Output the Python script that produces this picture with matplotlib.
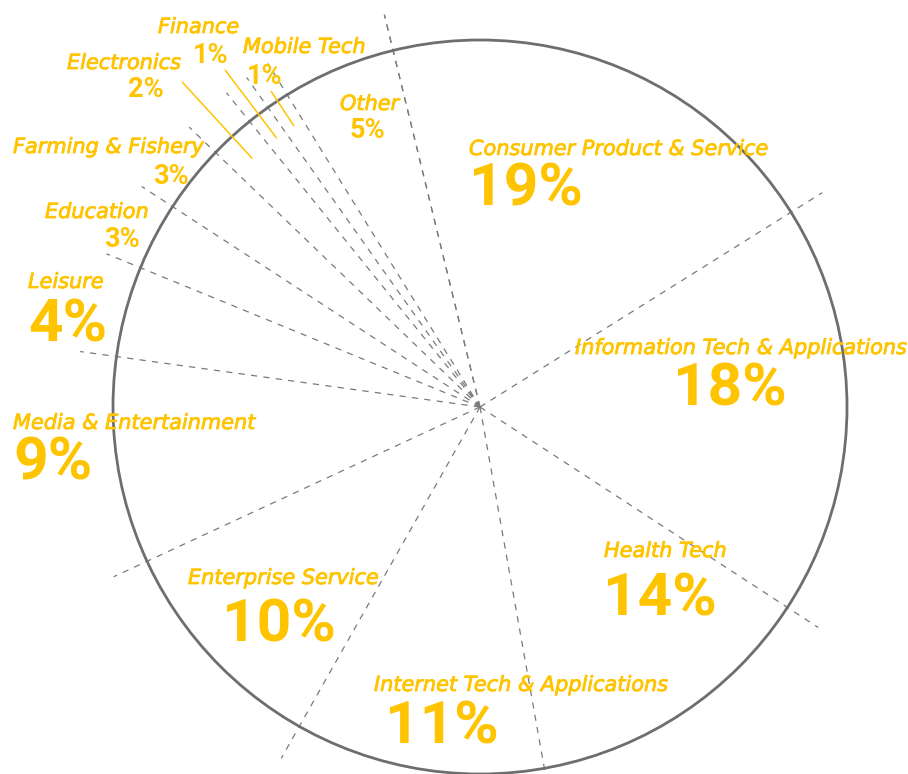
import numpy as np
import matplotlib
matplotlib.use("Agg")
import matplotlib.pyplot as plt
import matplotlib.patheffects as pe
from matplotlib.patches import Circle

# ---- data ----
categories = ["Consumer Product & Service", "Information Tech & Applications", "Health Tech",
              "Internet Tech & Applications", "Enterprise Service", "Media & Entertainment",
              "Leisure", "Education", "Farming & Fishery", "Electronics", "Finance",
              "Mobile Tech", "Other"]
shares = [19.9, 18.1, 13.0, 11.0, 9.9, 9.1, 4.0, 3.0, 3.0, 2.0, 1.0, 1.0, 5.0]
pct_labels = ["19%", "18%", "14%", "11%", "10%", "9%", "4%", "3%", "3%", "2%", "1%", "1%", "5%"]

# ---- layout (pixel positions: name left/baseline, pct left/baseline, big?) ----
W, H = 908, 774
CX, CY, R = 480, 407, 367
label_layout = {
    "Consumer Product & Service": (469, 155, 469, 205, True),
    "Information Tech & Applications": (575, 354, 673, 405, True),
    "Health Tech": (604, 557, 603, 615, True),
    "Internet Tech & Applications": (374, 691, 385, 744, True),
    "Enterprise Service": (188, 584, 222, 641, True),
    "Media & Entertainment": (13, 429, 13, 480, True),
    "Leisure": (28, 288, 28, 342, True),
    "Education": (45, 218, 104, 247, False),
    "Farming & Fishery": (13, 153, 153, 184, False),
    "Electronics": (67, 69, 128, 97, False),
    "Finance": (158, 33, 193, 63, False),
    "Mobile Tech": (243, 53, 247, 84, False),
    "Other": (340, 110, 350, 138, False),
}
leader_outer = {"Electronics": 1.20, "Finance": 1.15, "Mobile Tech": 1.03}

GOLD = "#FFC400"
GREY = "#6e6e6e"
NAME_FONT = "DejaVu Sans"
PCT_FONT = "Roboto"

fig = plt.figure(figsize=(W / 100, H / 100), dpi=100)
ax = fig.add_axes([0, 0, 1, 1])

wedges, _ = ax.pie(shares, startangle=103.7, counterclock=False, radius=1,
                   wedgeprops=dict(facecolor="none", edgecolor="none", linewidth=0))

ax.set_xlim(-CX / R, (W - CX) / R)
ax.set_ylim(-(H - CY) / R, CY / R)
ax.axis("off")

# boundaries
bounds = set()
for w in wedges:
    for a in (w.theta1, w.theta2):
        bounds.add(round(a % 360, 4))
for a in bounds:
    t = np.deg2rad(a)
    ax.plot([0, 1.1 * np.cos(t)], [0, 1.1 * np.sin(t)], color="#7a7a7a",
            lw=0.9, ls=(0, (5.0, 5.0)), zorder=2)

ax.add_patch(Circle((0, 0), 1, fill=False, ec=GREY, lw=2.0, zorder=3))

# leader lines
for w, cat in zip(wedges, categories):
    if cat in leader_outer:
        t = np.deg2rad((w.theta1 + w.theta2) / 2)
        ax.plot([0.92 * np.cos(t), leader_outer[cat] * np.cos(t)],
                [0.92 * np.sin(t), leader_outer[cat] * np.sin(t)],
                color=GOLD, lw=1.1, zorder=4)

# labels
thick = [pe.withStroke(linewidth=0.6, foreground=GOLD)]
for cat, pct in zip(categories, pct_labels):
    nx, ny, px, py, big = label_layout[cat]
    fig.text(nx / W, 1 - ny / H, cat, family=NAME_FONT, style="oblique",
             fontsize=15, color=GOLD, ha="left", va="baseline", path_effects=thick)
    fig.text(px / W, 1 - py / H, pct, family=PCT_FONT, weight="bold",
             fontsize=43.5 if big else 19.5, color=GOLD, ha="left", va="baseline")

fig.savefig("out.png", dpi=100)
